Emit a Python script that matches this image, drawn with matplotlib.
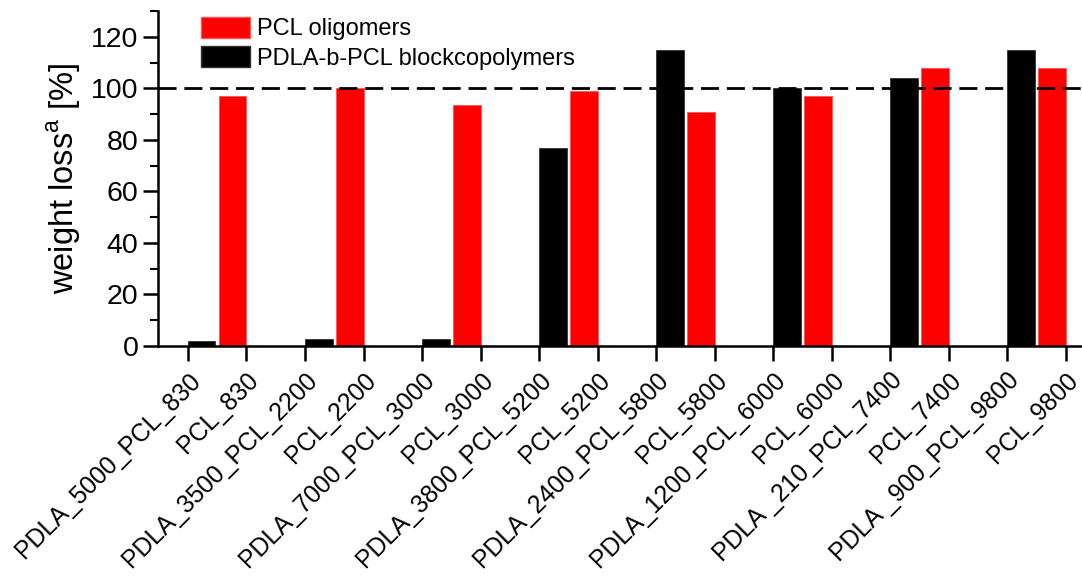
import matplotlib
matplotlib.use("Agg")
import matplotlib.pyplot as plt
from matplotlib.patches import Patch
from matplotlib.ticker import MultipleLocator

plt.rcParams['font.family'] = ['Liberation Sans', 'DejaVu Sans']

labels = ["PDLA_5000_PCL_830", "PCL_830", "PDLA_3500_PCL_2200", "PCL_2200",
          "PDLA_7000_PCL_3000", "PCL_3000", "PDLA_3800_PCL_5200", "PCL_5200",
          "PDLA_2400_PCL_5800", "PCL_5800", "PDLA_1200_PCL_6000", "PCL_6000",
          "PDLA _210_PCL_7400", "PCL_7400", "PDLA _900_PCL_9800", "PCL_9800"]
block_values = [2, 2.7, 2.7, 77, 115, 100.2, 104, 115]
oligomer_values = [97, 100, 93.5, 99, 91, 97, 108, 108]
reference_level = 100

fig = plt.figure(figsize=(10.82, 5.79), dpi=100)
ax = fig.add_axes([0.146, 0.4024, 0.854, 0.5786])

xb = list(range(0, len(labels), 2))
xr = list(range(1, len(labels), 2))
w = 0.47
ax.bar(xb, block_values, width=w, align='edge', color='black', edgecolor='#333333', linewidth=0.6, zorder=2)
ax.bar(xr, oligomer_values, width=-w, align='edge', color='#ff0000', edgecolor='#ff5555', linewidth=0.6, zorder=2)
ax.axhline(reference_level, color='black', linestyle=(0, (6.5, 2.8)), linewidth=2.0, zorder=3)

ax.set_xlim(-0.513, 15.28)
ax.set_ylim(0, 130)
ax.set_xticks(range(len(labels)))
ax.set_xticklabels(labels, rotation=45, ha='right', rotation_mode='anchor', fontsize=17.8)
ax.yaxis.set_major_locator(MultipleLocator(20))
ax.yaxis.set_minor_locator(MultipleLocator(10))
ax.tick_params(axis='both', which='major', direction='out', length=11, width=1.8)
ax.tick_params(axis='y', labelsize=20.5, pad=3)
ax.tick_params(axis='x', pad=5)
ax.tick_params(axis='y', which='minor', direction='out', length=6, width=1.5)
ax.set_yticks(range(0, 121, 20))
for s in ['top', 'right']:
    ax.spines[s].set_visible(False)
for s in ['left', 'bottom']:
    ax.spines[s].set_linewidth(1.8)
ax.set_ylabel('weight loss$^{\\mathregular{a}}$ [%]', fontsize=23.5, labelpad=6)

handles = [Patch(facecolor='#ff0000', edgecolor='#ff5555'), Patch(facecolor='black', edgecolor='#333333')]
ax.legend(handles, ['PCL oligomers', 'PDLA-b-PCL blockcopolymers'], loc='upper left',
          bbox_to_anchor=(0.031, 1.025), frameon=False, fontsize=17,
          handlelength=2.1, handleheight=1.0, handletextpad=0.3, labelspacing=0.25, borderaxespad=0.2)

fig.savefig('out.png', dpi=100)
